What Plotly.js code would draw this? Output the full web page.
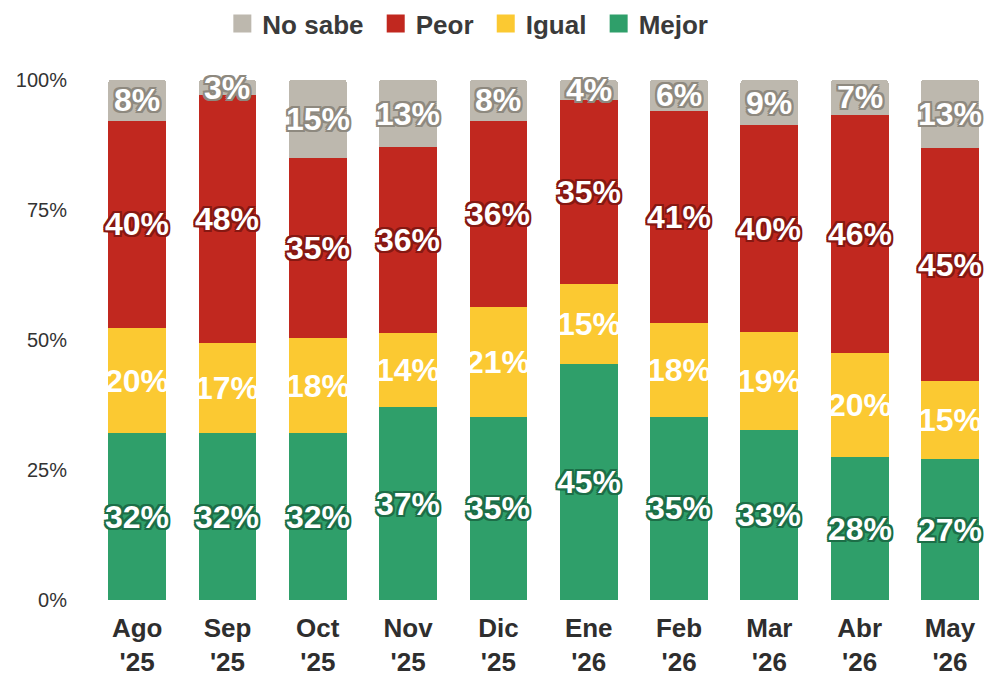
<!DOCTYPE html>
<html>
<head>
<meta charset="utf-8">
<script src="https://cdn.plot.ly/plotly-3.0.1.min.js"></script>
<style>
  html, body { margin: 0; padding: 0; background: #ffffff; }
  #chart { width: 987px; height: 675px; }
</style>
</head>
<body>
<div id="chart"></div>
<script>
const months = ['Ago<br>\'25', 'Sep<br>\'25', 'Oct<br>\'25', 'Nov<br>\'25', 'Dic<br>\'25',
  'Ene<br>\'26', 'Feb<br>\'26', 'Mar<br>\'26', 'Abr<br>\'26', 'May<br>\'26'];
const mejor = [32.1, 32.1, 32.1, 37.1, 35.2, 45.4, 35.2, 32.7, 27.5, 27.1];
const igual = [20.2, 17.3, 18.2, 14.2, 21.1, 15.4, 18.1, 18.8, 20.0, 15.0];
const peor = [39.9, 47.7, 34.7, 35.8, 35.9, 35.4, 40.8, 39.8, 45.8, 44.8];
const noSabe = [7.8, 2.9, 15.0, 12.9, 7.8, 3.8, 5.9, 8.7, 6.7, 13.1];
const yTicks = [0, 25, 50, 75, 100];
const yTickText = ['0%', '25%', '50%', '75%', '100%'];

const series = [
  { name: 'Mejor', values: mejor, color: '#2f9f6a', outline: '#1c6e47' },
  { name: 'Igual', values: igual, color: '#fbc932', outline: null },
  { name: 'Peor', values: peor, color: '#c1281f', outline: '#861812' },
  { name: 'No sabe', values: noSabe, color: '#bdb8ae', outline: '#8e897f' },
];

function outlineShadow(color) {
  if (!color) {
    return 'none';
  }
  const offsets = [[-2, -2], [2, -2], [-2, 2], [2, 2], [0, 2], [2, 0], [0, -2], [-2, 0]];
  return offsets.map(([dx, dy]) => `${dx}px ${dy}px 0 ${color}`).join(', ');
}

const bars = series.map((s) => ({
  type: 'bar',
  x: months,
  y: s.values,
  name: s.name,
  showlegend: false,
  marker: { color: s.color, line: { width: 0 } },
  hoverinfo: 'skip',
}));

// legend swatches: one marker each, parked below the axis range so it is clipped away
// (a trailing nbsp widens the gap between legend entries, except after the last one)
const legendItems = series.map((s, i) => ({
  type: 'scatter',
  mode: 'markers',
  x: [months[0]],
  y: [-50],
  name: i === 0 ? s.name : s.name + '\u00a0',
  marker: { symbol: 'square', size: 16, color: s.color, line: { color: s.color, width: 2 } },
  hoverinfo: 'skip',
}));

// value labels sit in the middle of each stacked segment
const annotations = [];
const bases = months.map(() => 0);
series.forEach((s) => {
  s.values.forEach((v, i) => {
    annotations.push({
      x: months[i],
      y: bases[i] + v / 2,
      text: Math.round(v) + '%',
      showarrow: false,
      xanchor: 'center',
      yanchor: 'middle',
      font: {
        family: 'Liberation Sans, Arial, sans-serif',
        size: 32,
        weight: 700,
        color: '#ffffff',
        shadow: outlineShadow(s.outline),
      },
    });
    bases[i] += v;
  });
});

Plotly.newPlot('chart', [...bars, ...legendItems], {
  width: 987,
  height: 675,
  paper_bgcolor: '#ffffff',
  plot_bgcolor: '#ffffff',
  barmode: 'stack',
  bargap: 0.36,
  barcornerradius: 3,
  margin: { l: 92, r: 0, t: 80, b: 75 },
  font: { family: 'Liberation Sans, Arial, sans-serif', color: '#333333' },
  showlegend: true,
  annotations,
  legend: {
    orientation: 'h',
    traceorder: 'reversed',
    xref: 'container',
    yref: 'container',
    x: 0.474,
    xanchor: 'center',
    y: 1,
    yanchor: 'top',
    font: { size: 26, weight: 700, color: '#3a3a3a' },
    itemclick: false,
  },
  xaxis: {
    type: 'category',
    range: [-0.5, 9.41],
    showgrid: false,
    zeroline: false,
    showline: false,
    ticks: '',
    ticklabelstandoff: 10,
    tickfont: { size: 26, weight: 700, color: '#2e2e2e' },
    fixedrange: true,
  },
  yaxis: {
    range: [0, 100],
    tickmode: 'array',
    tickvals: yTicks,
    ticktext: yTickText,
    showgrid: false,
    zeroline: false,
    showline: false,
    ticks: '',
    ticklabelstandoff: 24,
    tickfont: { size: 20, color: '#333333' },
    fixedrange: true,
  },
}, {
  displayModeBar: false,
  staticPlot: true,
});
</script>
</body>
</html>
